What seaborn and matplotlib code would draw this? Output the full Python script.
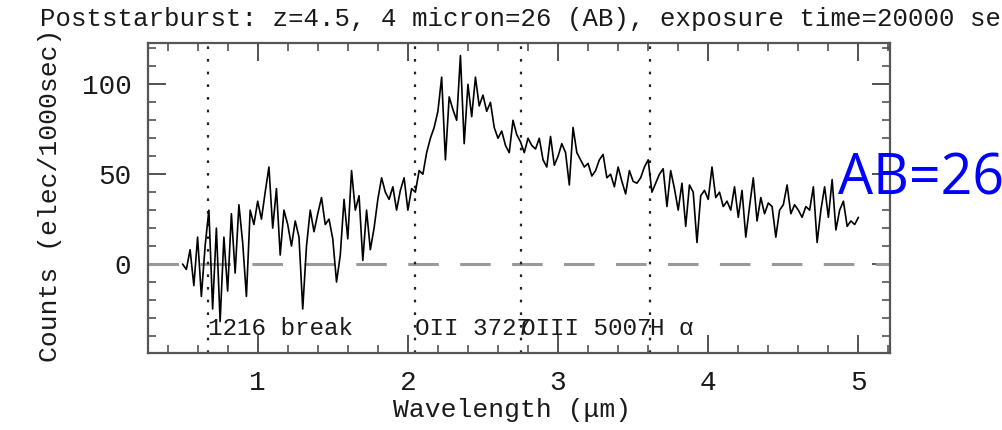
import numpy as np
import matplotlib
matplotlib.use('Agg')
import matplotlib.pyplot as plt
from matplotlib.ticker import MultipleLocator
import seaborn as sns

# spectrum, 0.5 to 5.0 micron in 0.025 steps
counts = [
    0, -3, 8, -12, 15, -18, 10,
    30, -25, 20, -32, 15, -15, 28, -5, 33, 12, -18, 30, 22, 35, 25, 40, 54, 20, 42, 5, 30, 22,
    10, 24, 15, -25, 10, 30, 18, 28, 37, 22, 25, 14, -10, 5, 36, 14, 52, 30, 38, 2,
    30, 8, 20, 36, 48, 40, 36, 43, 30, 41, 48, 30, 42, 40,
    52, 50, 62, 70, 76, 85, 104, 58, 93, 86, 80, 116, 67, 100, 82, 104, 88, 94, 85, 90,
    76, 70, 74, 66, 62, 80, 72, 68, 62, 70, 66, 64,
    70, 58, 54, 71, 55, 60, 67, 62, 44, 76, 62, 58, 54, 56, 49, 52, 58, 61, 48, 50,
    43, 54, 46, 39, 52, 46, 45, 48, 54, 58, 40, 45, 50, 53, 32, 52, 42, 30, 45, 21, 44, 40, 12,
    38, 41, 36, 54, 37, 40, 32, 35, 30, 43, 26, 41, 15, 32, 48, 24, 37, 28, 34, 32,
    15, 30, 33, 44, 28, 33, 30, 26, 32, 30, 43, 12, 30, 43, 26, 47, 19, 30, 35, 21, 24, 22, 26,
]
wave = np.linspace(0.5, 5.0, len(counts))

line_waves = [0.669, 2.050, 2.754, 3.610]
line_labels = ['1216 break', 'OII 3727', 'OIII 5007', 'H α']

title = 'Poststarburst: z=4.5, 4 micron=26 (AB), exposure time=20000 sec'

sns.set_theme(style='ticks')
plt.rcParams['font.family'] = ['Liberation Mono', 'DejaVu Sans Mono']

fig = plt.figure(figsize=(10.03, 4.30), dpi=100)
ax = fig.add_axes([0.1476, 0.179, 0.7397, 0.721])

ax.axhline(0, color='#999999', lw=2.2, dashes=(10, 7))
for w in line_waves:
    ax.axvline(w, color='#222222', lw=1.6, dashes=(1.2, 4.5))

sns.lineplot(x=wave, y=counts, color='black', lw=1.2, ax=ax)

for w, lab in zip(line_waves, line_labels):
    ax.text(w, -36, lab, ha='left', va='center', fontsize=17.5, color='#1a1a1a')

ax.set_xlim(0.27, 5.21)
ax.set_ylim(-49.5, 123)
ax.xaxis.set_major_locator(MultipleLocator(1))
ax.xaxis.set_minor_locator(MultipleLocator(0.2))
ax.yaxis.set_major_locator(MultipleLocator(50))
ax.yaxis.set_minor_locator(MultipleLocator(10))
ax.tick_params(which='both', direction='in', top=True, right=True, color='#444444',
               labelsize=20, labelcolor='#1a1a1a', pad=12)
ax.tick_params(which='major', length=13, width=1.3)
ax.tick_params(which='minor', length=6, width=1.1)
for s in ax.spines.values():
    s.set_linewidth(1.6)
    s.set_color('#555555')

ax.set_xlabel('Wavelength (μm)', fontsize=19, color='#1a1a1a')
ax.set_ylabel('Counts (elec/1000sec)', fontsize=19, color='#1a1a1a')
ax.yaxis.set_label_coords(-0.116, 0.51)
ax.xaxis.set_label_coords(0.49, -0.145)

fig.text(40 / 1003, 1 - 19 / 430, title, ha='left', va='center', fontsize=18.5, color='#1a1a1a')
fig.text(838 / 1003, 1 - 180 / 430, 'AB=26', ha='left', va='center', fontsize=40,
         color='#0000ff', family=['Open Sans', 'DejaVu Sans'])

fig.savefig('out.png', dpi=100)
